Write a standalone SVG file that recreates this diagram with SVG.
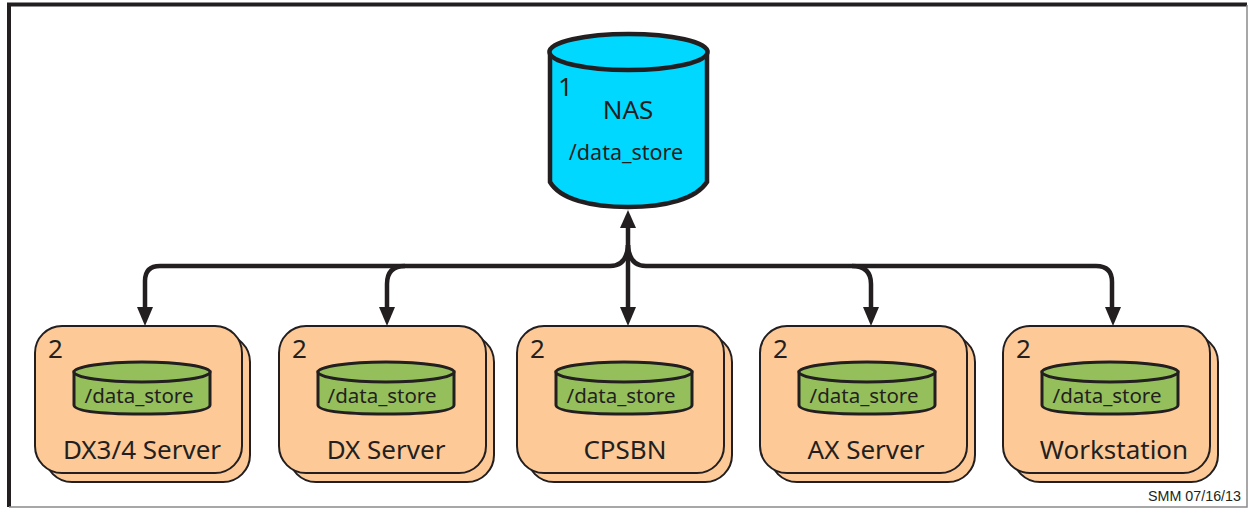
<svg xmlns="http://www.w3.org/2000/svg" width="1249" height="508" viewBox="0 0 1249 508">
<style>
text{font-family:"Noto Sans","Open Sans","DejaVu Sans",sans-serif;fill:#231f20}
.card{fill:#fdc997;stroke:#231f20;stroke-width:2}
.cyl{fill:#95bf5b;stroke:#231f20;stroke-width:3}
.nas{fill:#00d8ff;stroke:#231f20;stroke-width:4.500}
.num{font-size:26px}
.ds{font-size:20.500px;text-anchor:middle}
.lab{font-size:26px;text-anchor:middle}
.wire{fill:none;stroke:#231f20;stroke-width:4.500}
.head{fill:#231f20}
</style>
<defs>
<g id="server">
<rect class="card" x="10" y="9" width="205" height="147" rx="27"/>
<rect class="card" x="0" y="0" width="207" height="147" rx="27"/>
<path class="cyl" d="M39 46V79Q39 88 107 88Q175 88 175 79V46Z"/>
<ellipse class="cyl" cx="107" cy="46" rx="68" ry="10"/>
</g>
</defs>
<rect x="9.500" y="4.500" width="1237" height="502" fill="#fff" stroke="none"/>
<path d="M9 507V4.500H1247" fill="none" stroke="#231f20" stroke-width="4"/>
<path d="M9 507H1247V5" fill="none" stroke="#8a8a8a" stroke-width="1.500"/>
<g id="connectors">
<path class="wire" d="M628 226V312"/>
<path class="wire" d="M628 245Q627 266 610 266H160Q145 266 145 281V310"/>
<path class="wire" d="M405 266Q387 266 387 284V310"/>
<path class="wire" d="M628 245Q629 266 646 266H1096Q1112 266 1112 282V310"/>
<path class="wire" d="M852 266Q871 266 871 284V310"/>
<path class="head" d="M628 210L636 228H620Z"/>
<path class="head" d="M145 326L137 307H153Z"/>
<path class="head" d="M387 326L379 307H395Z"/>
<path class="head" d="M628 326L620 307H636Z"/>
<path class="head" d="M871 326L863 307H879Z"/>
<path class="head" d="M1113 326L1105 307H1121Z"/>
</g>
<g id="nas">
<path class="nas" d="M550 52V182C560 199 590 207 628 207C666 207 696 199 707 182V52Z"/>
<ellipse class="nas" cx="628.500" cy="52" rx="79" ry="18"/>
<text x="558" y="96" class="num">1</text>
<text x="628" y="119" font-size="26" text-anchor="middle">NAS</text>
<text x="626" y="160" class="ds" style="font-size:21.500px">/data_store</text>
</g>
<g id="dx34"><use href="#server" x="35" y="326"/><text x="48" y="358" class="num">2</text><text x="142" y="459" class="lab">DX3/4 Server</text><text x="139" y="403" class="ds">/data_store</text></g>
<g id="dx"><use href="#server" x="279" y="326"/><text x="292" y="358" class="num">2</text><text x="386" y="459" class="lab">DX Server</text><text x="382" y="403" class="ds">/data_store</text></g>
<g id="cpsbn"><use href="#server" x="517" y="326"/><text x="530" y="358" class="num">2</text><text x="625" y="459" class="lab">CPSBN</text><text x="621" y="403" class="ds">/data_store</text></g>
<g id="ax"><use href="#server" x="760" y="326"/><text x="773" y="358" class="num">2</text><text x="866" y="459" class="lab">AX Server</text><text x="864" y="403" class="ds">/data_store</text></g>
<g id="workstation"><use href="#server" x="1003" y="326"/><text x="1016" y="358" class="num">2</text><text x="1114" y="459" class="lab">Workstation</text><text x="1107" y="403" class="ds">/data_store</text></g>
<text x="1148" y="501" font-size="14.300" style="font-family:'Liberation Sans',sans-serif">SMM 07/16/13</text>
</svg>
